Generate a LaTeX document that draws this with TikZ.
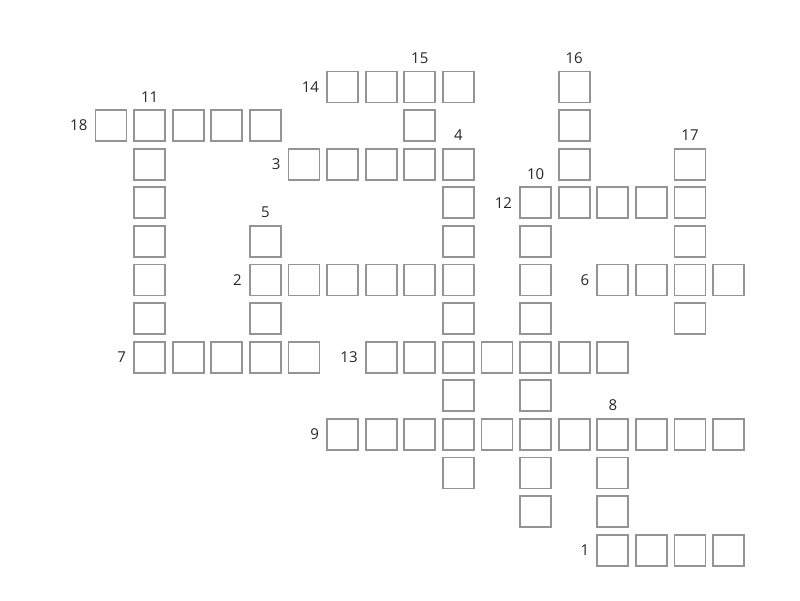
\documentclass[tikz,border=0pt]{standalone}
\usepackage{fontspec}
\setmainfont{Open Sans}
\begin{document}
\begin{tikzpicture}[x=1pt,y=-1pt,
  cellbox/.style={draw=black!42,line width=1.8pt,minimum size=31pt,inner sep=0pt,fill=white},
  numlab/.style={font=\fontsize{15}{18}\selectfont,text=black!85,inner sep=0pt}]
\useasboundingbox (0,0) rectangle (800,600);
\foreach \c/\r in {6/0,7/0,8/0,9/0,12/0,
  0/1,1/1,2/1,3/1,4/1,8/1,12/1,
  1/2,5/2,6/2,7/2,8/2,9/2,12/2,15/2,
  1/3,9/3,11/3,12/3,13/3,14/3,15/3,
  1/4,4/4,9/4,11/4,15/4,
  1/5,4/5,5/5,6/5,7/5,8/5,9/5,11/5,13/5,14/5,15/5,16/5,
  1/6,4/6,9/6,11/6,15/6,
  1/7,2/7,3/7,4/7,5/7,7/7,8/7,9/7,10/7,11/7,12/7,13/7,
  9/8,11/8,
  6/9,7/9,8/9,9/9,10/9,11/9,12/9,13/9,14/9,15/9,16/9,
  9/10,11/10,13/10,
  11/11,13/11,
  13/12,14/12,15/12,16/12}
  \node[cellbox] (cell-\c-\r) at ({111+38.6*\c},{87+38.6*\r}) {};
\node[numlab,anchor=south] (n15) at ([yshift=7pt]cell-8-0.north) {15};
\node[numlab,anchor=south] (n16) at ([yshift=7pt]cell-12-0.north) {16};
\node[numlab,anchor=south] (n11) at ([yshift=7pt]cell-1-1.north) {11};
\node[numlab,anchor=south] (n4) at ([yshift=7pt]cell-9-2.north) {4};
\node[numlab,anchor=south] (n17) at ([yshift=7pt]cell-15-2.north) {17};
\node[numlab,anchor=south] (n10) at ([yshift=7pt]cell-11-3.north) {10};
\node[numlab,anchor=south] (n5) at ([yshift=7pt]cell-4-4.north) {5};
\node[numlab,anchor=south] (n8) at ([yshift=7pt]cell-13-9.north) {8};
\node[numlab,anchor=east] (n14) at ([xshift=-7pt]cell-6-0.west) {14};
\node[numlab,anchor=east] (n18) at ([xshift=-7pt]cell-0-1.west) {18};
\node[numlab,anchor=east] (n3) at ([xshift=-7pt]cell-5-2.west) {3};
\node[numlab,anchor=east] (n12) at ([xshift=-7pt]cell-11-3.west) {12};
\node[numlab,anchor=east] (n2) at ([xshift=-7pt]cell-4-5.west) {2};
\node[numlab,anchor=east] (n6) at ([xshift=-7pt]cell-13-5.west) {6};
\node[numlab,anchor=east] (n7) at ([xshift=-7pt]cell-1-7.west) {7};
\node[numlab,anchor=east] (n13) at ([xshift=-7pt]cell-7-7.west) {13};
\node[numlab,anchor=east] (n9) at ([xshift=-7pt]cell-6-9.west) {9};
\node[numlab,anchor=east] (n1) at ([xshift=-7pt]cell-13-12.west) {1};
\end{tikzpicture}
\end{document}
